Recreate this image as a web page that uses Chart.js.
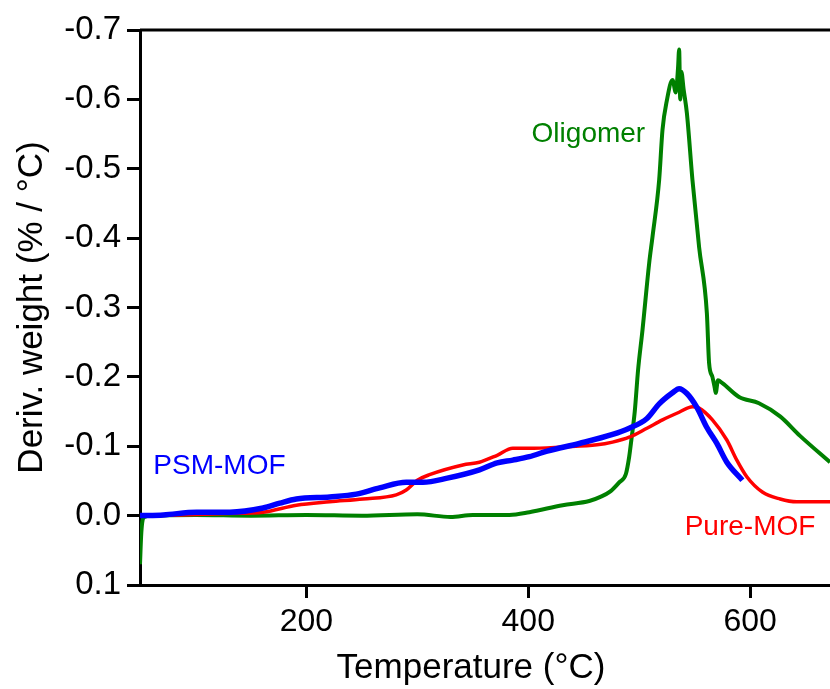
<!DOCTYPE html>
<html>
<head>
<meta charset="utf-8">
<title>DTG curves</title>
<script src="https://cdn.jsdelivr.net/npm/chart.js@4.4.1/dist/chart.umd.min.js"></script>
<style>
    html, body { margin: 0; padding: 0; background: #fff; }
    canvas { display: block; }
</style>
</head>
<body>
<canvas id="dtg-chart" width="830" height="689"></canvas>
<script>
// Values (temperature in °C, deriv. weight in % / °C)
const oligomerTemp = [50, 51, 52, 54, 60, 100, 150, 200, 250, 300, 330, 350, 383, 401, 431, 455, 465, 474, 482, 488, 491, 493, 496, 499, 503, 509, 512, 518, 521, 525, 530, 533, 535, 536, 537, 538, 540, 543, 548, 554, 561, 563, 566, 568, 569, 571, 575, 590, 608, 627, 645, 672];
const oligomerDeriv = [0.07, 0.03, 0.01, 0.002, 0.0, -0.001, 0.0, -0.001, 0.0, -0.002, 0.002, -0.001, -0.001, -0.005, -0.015, -0.021, -0.027, -0.035, -0.048, -0.060, -0.085, -0.110, -0.150, -0.210, -0.268, -0.364, -0.402, -0.484, -0.556, -0.599, -0.628, -0.610, -0.645, -0.672, -0.600, -0.640, -0.615, -0.580, -0.484, -0.387, -0.292, -0.220, -0.200, -0.185, -0.177, -0.195, -0.191, -0.171, -0.162, -0.143, -0.115, -0.077];

const pureTemp = [50, 86, 130, 161, 191, 221, 251, 281, 290, 300, 311, 341, 356, 372, 386, 401, 431, 462, 476, 491, 507, 521, 536, 548, 554, 566, 579, 588, 597, 611, 627, 642, 672];
const pureDeriv = [0.0, -0.001, -0.003, -0.005, -0.015, -0.020, -0.024, -0.030, -0.037, -0.051, -0.059, -0.073, -0.077, -0.087, -0.097, -0.097, -0.099, -0.102, -0.106, -0.113, -0.126, -0.138, -0.149, -0.157, -0.155, -0.138, -0.109, -0.080, -0.056, -0.034, -0.024, -0.020, -0.020];

const psmTemp = [50, 71, 101, 131, 161, 176, 191, 221, 245, 266, 290, 305, 327, 356, 372, 386, 401, 417, 446, 476, 491, 507, 518, 530, 536, 543, 552, 561, 570, 579, 593];
const psmDeriv = [0.0, -0.001, -0.005, -0.005, -0.011, -0.018, -0.024, -0.027, -0.031, -0.040, -0.048, -0.048, -0.054, -0.066, -0.076, -0.080, -0.085, -0.093, -0.104, -0.117, -0.126, -0.140, -0.161, -0.177, -0.183, -0.176, -0.156, -0.127, -0.104, -0.077, -0.051];

const xTicks = [200, 400, 600];
const yTicks = [-0.7, -0.6, -0.5, -0.4, -0.3, -0.2, -0.1, 0.0, 0.1];

const FONT = "'Liberation Sans', Arial, Helvetica, sans-serif";

function toPoints(xs, ys) {
    return xs.map((x, i) => ({ x: x, y: ys[i] }));
}

// Curve labels (data coordinates) and axis titles, plus the top frame line
const labelsPlugin = {
    id: 'curveLabels',
    afterDraw(chart) {
        const { ctx, chartArea, scales } = chart;
        const x = scales.x, y = scales.y;
        ctx.save();

        // top frame line
        ctx.strokeStyle = '#000';
        ctx.lineWidth = 3;
        ctx.beginPath();
        ctx.moveTo(chartArea.left, chartArea.top);
        ctx.lineTo(chartArea.right, chartArea.top);
        ctx.stroke();

        ctx.textBaseline = 'middle';
        ctx.textAlign = 'left';
        ctx.font = '28px ' + FONT;
        const tags = [
            { text: 'PSM-MOF', t: 62, v: -0.0715, color: '#0000ff' },
            { text: 'Oligomer', t: 403, v: -0.549, color: '#008000' },
            { text: 'Pure-MOF', t: 541, v: 0.0164, color: '#ff0000' }
        ];
        tags.forEach(tag => {
            ctx.fillStyle = tag.color;
            ctx.fillText(tag.text, x.getPixelForValue(tag.t), y.getPixelForValue(tag.v));
        });

        // axis titles
        ctx.fillStyle = '#000';
        ctx.font = '35px ' + FONT;
        ctx.textAlign = 'center';
        ctx.fillText('Temperature (°C)', 471, 668);
        ctx.translate(32, (chartArea.top + chartArea.bottom) / 2);
        ctx.rotate(-Math.PI / 2);
        ctx.fillText('Deriv. weight (% / °C)', 0, 0);
        ctx.restore();
    }
};

const config = {
    type: 'line',
    data: {
        datasets: [
            {
                label: 'PSM-MOF',
                data: toPoints(psmTemp, psmDeriv),
                borderColor: '#0000ff',
                borderWidth: 5.5,
                order: 1
            },
            {
                label: 'Pure-MOF',
                data: toPoints(pureTemp, pureDeriv),
                borderColor: '#ff0000',
                borderWidth: 3.5,
                order: 2
            },
            {
                label: 'Oligomer',
                data: toPoints(oligomerTemp, oligomerDeriv),
                borderColor: '#008000',
                borderWidth: 4,
                order: 3
            }
        ]
    },
    options: {
        responsive: false,
        animation: false,
        parsing: false,
        elements: {
            point: { radius: 0 },
            line: { cubicInterpolationMode: 'monotone', fill: false }
        },
        layout: { padding: { top: 30, right: 0, left: 0, bottom: 0 } },
        plugins: {
            legend: { display: false },
            tooltip: { enabled: false }
        },
        scales: {
            x: {
                type: 'linear',
                min: 50,
                max: 672,
                afterBuildTicks: scale => { scale.ticks = xTicks.map(v => ({ value: v })); },
                afterFit: scale => { scale.height = 104; },
                grid: { display: true, drawOnChartArea: false, drawTicks: true, tickLength: 13, tickWidth: 3, color: '#000' },
                border: { display: true, width: 3, color: '#000' },
                ticks: { color: '#000', padding: 5, maxRotation: 0, font: { family: FONT, size: 32 } }
            },
            y: {
                type: 'linear',
                reverse: true,
                min: -0.7,
                max: 0.1,
                afterBuildTicks: scale => { scale.ticks = yTicks.map(v => ({ value: v })); },
                afterFit: scale => { scale.width = 140; },
                grid: { display: true, drawOnChartArea: false, drawTicks: true, tickLength: 13, tickWidth: 3, color: '#000' },
                border: { display: true, width: 3, color: '#000' },
                ticks: {
                    color: '#000',
                    padding: 6,
                    font: { family: FONT, size: 33 },
                    callback: value => Number(value).toFixed(1)
                }
            }
        }
    },
    plugins: [labelsPlugin]
};

new Chart(document.getElementById('dtg-chart'), config);
</script>
</body>
</html>
